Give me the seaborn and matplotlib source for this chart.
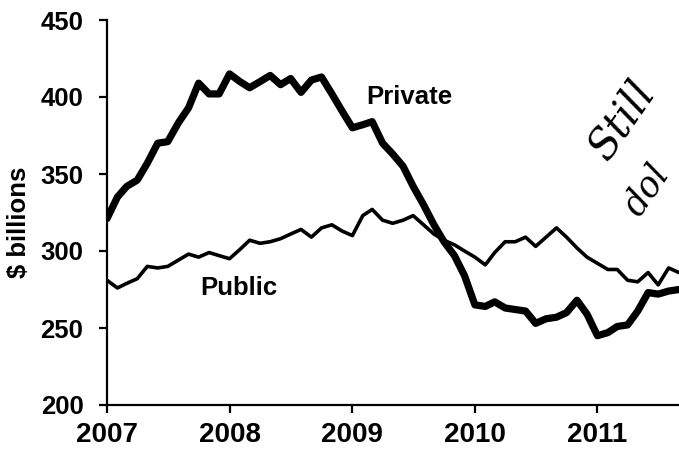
import numpy as np
import pandas as pd
import matplotlib
matplotlib.use("Agg")
import matplotlib.pyplot as plt
import matplotlib.dates as mdates
import seaborn as sns

# ---- data (monthly, Jan 2007 - Sep 2011), $ billions ----
private = [321, 335, 342, 346, 357, 370, 371, 383, 393, 409, 402, 402,
           415, 410, 406, 410, 414, 408, 412, 403, 411, 413, 402, 391,
           380, 382, 384, 370, 363, 355, 342, 330, 317, 306, 297, 284,
           265, 264, 267, 263, 262, 261, 253, 256, 257, 260, 268, 259,
           245, 247, 251, 252, 261, 273, 272, 274, 275]
public = [281, 276, 279, 282, 290, 289, 290, 294, 298, 296, 299, 297,
          295, 301, 307, 305, 306, 308, 311, 314, 309, 315, 317, 313,
          310, 323, 327, 320, 318, 320, 323, 317, 311, 307, 304, 300,
          296, 291, 299, 306, 306, 309, 303, 309, 315, 309, 302, 296,
          292, 288, 288, 281, 280, 286, 278, 289, 286]
start_month = "2007-01-01"
year_ticks = [2007, 2008, 2009, 2010, 2011]
y_ticks = [200, 250, 300, 350, 400, 450]

dates = pd.date_range(start_month, periods=len(private), freq="MS")
df = pd.DataFrame({"date": dates, "Private": private, "Public": public})

sns.set_theme(style="ticks")
plt.rcParams["font.family"] = ["Liberation Sans", "DejaVu Sans"]
plt.rcParams.update({"text.color": "black", "axes.labelcolor": "black",
                     "xtick.color": "black", "ytick.color": "black",
                     "axes.edgecolor": "black"})

fig = plt.figure(figsize=(6.79, 4.49), dpi=100)
ax = fig.add_axes([107 / 679, 1 - 405 / 449, 1 - 107 / 679, (405 - 20) / 449])

sns.lineplot(data=df, x="date", y="Public", ax=ax, color="black", linewidth=2.6)
sns.lineplot(data=df, x="date", y="Private", ax=ax, color="black", linewidth=5.2)

ax.set_ylim(200, 450)
ax.set_xlim(pd.Timestamp("2007-01-01"), dates[-1])
ax.set_yticks(y_ticks)
ax.set_xticks([pd.Timestamp(f"{y}-01-01") for y in year_ticks])
ax.set_xticklabels([str(y) for y in year_ticks])

for lab in ax.get_xticklabels():
    lab.set_fontsize(20)
    lab.set_fontweight("bold")
for lab in ax.get_yticklabels():
    lab.set_fontsize(18.5)
    lab.set_fontweight("bold")

ax.set_xlabel("")
ax.set_ylabel("$ billions", fontsize=18.5, fontweight="bold")
ax.yaxis.set_label_coords(-0.132, 0.475)

ax.spines["right"].set_visible(False)
ax.spines["top"].set_visible(False)
ax.spines["left"].set_linewidth(1.6)
ax.spines["bottom"].set_linewidth(1.6)
ax.tick_params(axis="both", direction="out", length=6, width=1.6)
ax.tick_params(axis="x", pad=6)
ax.tick_params(axis="y", pad=11)

ax.text(pd.Timestamp("2009-02-10"), 400, "Private", fontsize=18.5, fontweight="bold",
        ha="left", va="center")
ax.text(pd.Timestamp("2008-01-30"), 276, "Public", fontsize=18.5, fontweight="bold",
        ha="center", va="center")

# handwritten note
fig.text(622 / 679, 1 - 120 / 449, "Still", fontsize=30, fontstyle="italic",
         family=["DejaVu Serif"], rotation=55, ha="center", va="center")
fig.text(646 / 679, 1 - 190 / 449, "dol", fontsize=25, fontstyle="italic",
         family=["DejaVu Serif"], rotation=55, ha="center", va="center")

fig.savefig("out.png", dpi=100)
